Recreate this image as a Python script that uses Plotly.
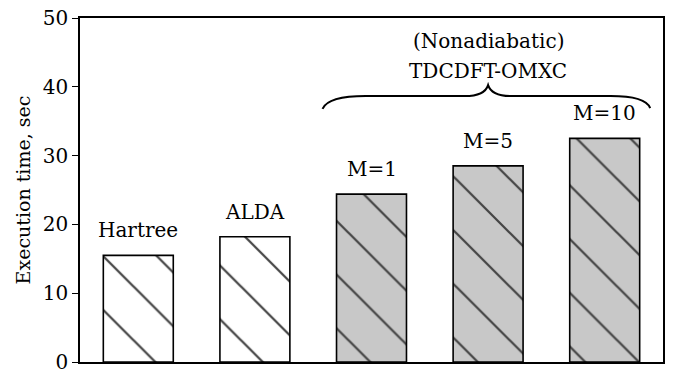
import plotly.graph_objects as go

categories = ["Hartree", "ALDA", "M=1", "M=5", "M=10"]
exec_time = [15.5, 18.2, 24.4, 28.5, 32.5]
bar_colors = ["white", "white", "#c8c8c8", "#c8c8c8", "#c8c8c8"]
y_ticks = [0, 10, 20, 30, 40, 50]
group_label = ["(Nonadiabatic)", "TDCDFT-OMXC"]

FONT = "DejaVu Serif"
x_idx = list(range(len(categories)))

fig = go.Figure()
fig.add_trace(go.Bar(
    x=x_idx, y=exec_time, width=0.6,
    marker=dict(
        color=bar_colors,
        line=dict(color="black", width=1.6),
        pattern=dict(shape="\\", size=38, solidity=0.06, fgcolor="black", fgopacity=1,
                     bgcolor=bar_colors, fillmode="overlay"),
    ),
    showlegend=False, hoverinfo="skip",
))

for i, (c, v) in enumerate(zip(categories, exec_time)):
    fig.add_annotation(x=i, y=v, text=c, showarrow=False, yanchor="bottom",
                       yshift=11, font=dict(family=FONT, size=20, color="black"))

# curly brace over the OMXC group
brace = ("M 1.58,36.8 Q 1.63,38.65 1.95,38.65 L 2.8,38.65 Q 2.97,38.65 3.0,40.25 "
         "Q 3.03,38.65 3.2,38.65 L 4.05,38.65 Q 4.35,38.65 4.39,36.9")
fig.add_shape(type="path", path=brace, xref="x", yref="y",
              line=dict(color="black", width=2))

fig.add_annotation(x=3.0, y=40.3, text=group_label[1], showarrow=False, yanchor="bottom",
                   font=dict(family=FONT, size=20, color="black"))
fig.add_annotation(x=3.0, y=44.6, text=group_label[0], showarrow=False, yanchor="bottom",
                   font=dict(family=FONT, size=20, color="black"))

fig.update_layout(
    width=673, height=371,
    margin=dict(l=72, r=18, t=10, b=17),
    plot_bgcolor="white", paper_bgcolor="white",
    font=dict(family=FONT, color="black"),
    bargap=0.4,
)
fig.update_xaxes(range=[-0.5, 4.5], showticklabels=False, ticks="", showgrid=False,
                 zeroline=False, showline=True, linecolor="black", linewidth=1.5, mirror=True,
                 automargin=False)
fig.update_yaxes(range=[0, 50], tickvals=y_ticks, ticks="outside", ticklen=6, tickwidth=1.2,
                 tickcolor="black", showgrid=False, zeroline=False,
                 showline=True, linecolor="black", linewidth=1.5, mirror=True,
                 automargin=False, ticklabeloverflow="allow",
                 tickfont=dict(family=FONT, size=20, color="black"),
                 title=dict(text="Execution time, sec", font=dict(family=FONT, size=19, color="black"),
                            standoff=7))

fig.write_html("out.html")
